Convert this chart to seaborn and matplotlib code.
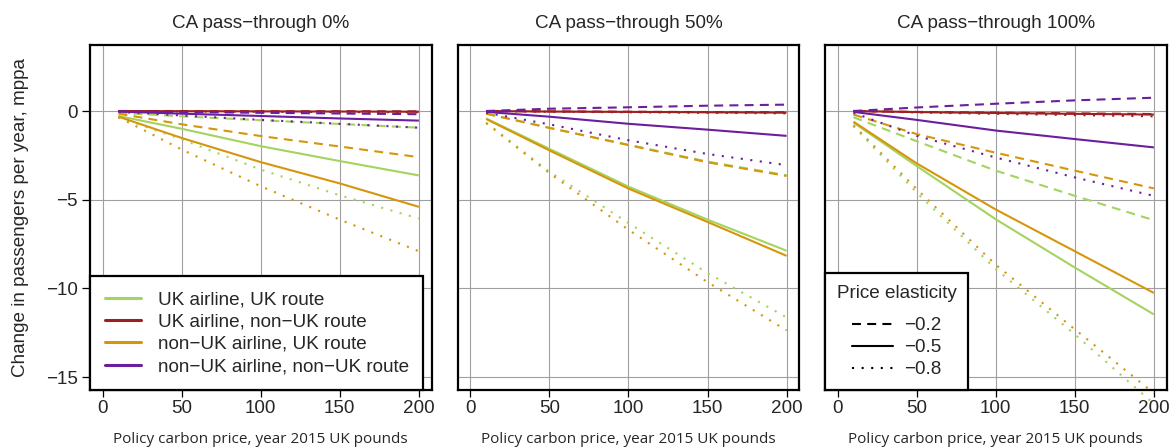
import numpy as np
import pandas as pd
import matplotlib
matplotlib.use("Agg")
import matplotlib.pyplot as plt
from matplotlib.lines import Line2D
import seaborn as sns

# ---------------- data ----------------
price = [10, 50, 100, 150, 200]
panels = ["CA pass\u2212through 0%", "CA pass\u2212through 50%", "CA pass\u2212through 100%"]
groups = ["UK airline, UK route", "UK airline, non\u2212UK route",
          "non\u2212UK airline, UK route", "non\u2212UK airline, non\u2212UK route"]
elasticities = ["\u22120.2", "\u22120.5", "\u22120.8"]

# panel 0% : [group][elasticity]
p0_uk_uk_02 = [-0.10, -0.30, -0.52, -0.73, -0.94]
p0_uk_uk_05 = [-0.28, -1.00, -1.98, -2.82, -3.63]
p0_uk_uk_08 = [-0.35, -1.60, -3.30, -4.75, -6.06]
p0_uk_nuk_02 = [0.00, 0.00, -0.01, -0.01, -0.02]
p0_uk_nuk_05 = [0.00, -0.01, -0.02, -0.03, -0.04]
p0_uk_nuk_08 = [0.00, -0.02, -0.04, -0.06, -0.07]
p0_nuk_uk_02 = [-0.15, -0.75, -1.41, -2.00, -2.60]
p0_nuk_uk_05 = [-0.32, -1.52, -2.88, -4.08, -5.40]
p0_nuk_uk_08 = [-0.35, -2.17, -4.24, -6.12, -7.90]
p0_nuk_nuk_02 = [-0.02, -0.06, -0.10, -0.14, -0.18]
p0_nuk_nuk_05 = [-0.03, -0.15, -0.28, -0.42, -0.54]
p0_nuk_nuk_08 = [-0.05, -0.25, -0.50, -0.72, -0.94]

# panel 50%
p50_uk_uk_02 = [-0.15, -0.95, -1.90, -2.85, -3.62]
p50_uk_uk_05 = [-0.42, -2.13, -4.26, -6.12, -7.87]
p50_uk_uk_08 = [-0.65, -3.42, -6.31, -9.13, -11.63]
p50_uk_nuk_02 = [0.00, -0.02, -0.04, -0.06, -0.07]
p50_uk_nuk_05 = [0.00, -0.03, -0.05, -0.07, -0.09]
p50_uk_nuk_08 = [0.00, -0.04, -0.07, -0.10, -0.13]
p50_nuk_uk_02 = [-0.15, -0.95, -1.92, -2.89, -3.66]
p50_nuk_uk_05 = [-0.45, -2.22, -4.37, -6.25, -8.16]
p50_nuk_uk_08 = [-0.68, -3.50, -6.69, -9.64, -12.36]
p50_nuk_nuk_02 = [0.00, 0.13, 0.21, 0.30, 0.36]
p50_nuk_nuk_05 = [-0.05, -0.32, -0.72, -1.05, -1.40]
p50_nuk_nuk_08 = [-0.10, -0.75, -1.65, -2.42, -3.05]

# panel 100%
p100_uk_uk_02 = [-0.35, -1.70, -3.36, -4.78, -6.15]
p100_uk_uk_05 = [-0.65, -3.10, -6.10, -8.82, -11.46]
p100_uk_uk_08 = [-0.85, -4.60, -8.90, -12.58, -16.50]
p100_uk_nuk_02 = [0.00, -0.05, -0.09, -0.13, -0.17]
p100_uk_nuk_05 = [0.00, -0.06, -0.11, -0.16, -0.20]
p100_uk_nuk_08 = [0.00, -0.08, -0.16, -0.23, -0.30]
p100_nuk_uk_02 = [-0.20, -1.30, -2.35, -3.36, -4.36]
p100_nuk_uk_05 = [-0.60, -2.95, -5.55, -7.90, -10.25]
p100_nuk_uk_08 = [-0.80, -4.40, -8.66, -12.30, -15.90]
p100_nuk_nuk_02 = [0.00, 0.20, 0.41, 0.60, 0.75]
p100_nuk_nuk_05 = [-0.05, -0.50, -1.10, -1.58, -2.05]
p100_nuk_nuk_08 = [-0.10, -1.40, -2.62, -3.74, -4.78]

x_ticks = [0, 50, 100, 150, 200]
y_ticks = [0, -5, -10, -15]
y_tick_labels = ["0", "\u22125", "\u221210", "\u221215"]

series = {
    panels[0]: [[p0_uk_uk_02, p0_uk_uk_05, p0_uk_uk_08],
                [p0_uk_nuk_02, p0_uk_nuk_05, p0_uk_nuk_08],
                [p0_nuk_uk_02, p0_nuk_uk_05, p0_nuk_uk_08],
                [p0_nuk_nuk_02, p0_nuk_nuk_05, p0_nuk_nuk_08]],
    panels[1]: [[p50_uk_uk_02, p50_uk_uk_05, p50_uk_uk_08],
                [p50_uk_nuk_02, p50_uk_nuk_05, p50_uk_nuk_08],
                [p50_nuk_uk_02, p50_nuk_uk_05, p50_nuk_uk_08],
                [p50_nuk_nuk_02, p50_nuk_nuk_05, p50_nuk_nuk_08]],
    panels[2]: [[p100_uk_uk_02, p100_uk_uk_05, p100_uk_uk_08],
                [p100_uk_nuk_02, p100_uk_nuk_05, p100_uk_nuk_08],
                [p100_nuk_uk_02, p100_nuk_uk_05, p100_nuk_uk_08],
                [p100_nuk_nuk_02, p100_nuk_nuk_05, p100_nuk_nuk_08]],
}

rows = []
for pn, glist in series.items():
    for g, elist in zip(groups, glist):
        for e, vals in zip(elasticities, elist):
            for xv, yv in zip(price, vals):
                rows.append(dict(panel=pn, group=g, elasticity=e, price=xv, change=yv))
df = pd.DataFrame(rows)

# ---------------- style ----------------
sns.set_style("white")
plt.rcParams["font.family"] = ["Liberation Sans", "DejaVu Sans"]
plt.rcParams["axes.unicode_minus"] = True

palette = {groups[0]: "#a4d35f", groups[1]: "#9c1f22",
           groups[2]: "#d6960c", groups[3]: "#6c1f9c"}
dashes = {elasticities[0]: (4.3, 3.0), elasticities[1]: "", elasticities[2]: (1.0, 3.6)}
LW = 1.5
FS = 13.6

W, H = 1175, 447
fig = plt.figure(figsize=(W / 100, H / 100), dpi=100)
fig.patch.set_facecolor("white")

ax_lefts = [90, 457.7, 825]
ax_w = 341.5
top_px, bot_px = 45, 390
axes = []
for i, pn in enumerate(panels):
    ax = fig.add_axes([ax_lefts[i] / W, 1 - bot_px / H, ax_w / W, (bot_px - top_px) / H])
    axes.append(ax)
    sub = df[df.panel == pn]
    sns.lineplot(data=sub, x="price", y="change", hue="group", style="elasticity",
                 hue_order=groups, style_order=elasticities, palette=palette,
                 dashes=dashes, linewidth=LW, legend=False, ax=ax,
                 estimator=None, sort=True)
    for ln in ax.lines:
        ln.set_clip_on(False)
        ln.set_dash_capstyle("butt")
        ln.set_solid_capstyle("butt")
        ln.set_zorder(3)
    ax.set_xlim(-8, 208)
    ax.set_ylim(-15.72, 3.72)
    ax.set_xticks(x_ticks)
    ax.set_xticklabels([str(t) for t in x_ticks], fontsize=FS)
    ax.set_yticks(y_ticks)
    ax.grid(True, color="#a0a0a0", linewidth=0.8, zorder=0)
    ax.set_axisbelow(True)
    for s in ax.spines.values():
        s.set_visible(True)
        s.set_color("black")
        s.set_linewidth(1.6)
    ax.tick_params(axis="x", direction="out", length=5, width=0.9, color="black",
                   pad=2, bottom=True)
    if i == 0:
        ax.set_yticklabels(y_tick_labels, fontsize=FS)
        ax.tick_params(axis="y", direction="out", length=6, width=0.9, color="black",
                       pad=3, left=True)
        ax.set_ylabel("Change in passengers per year, mppa", fontsize=FS, labelpad=12)
    else:
        ax.set_yticklabels([])
        ax.tick_params(axis="y", left=False)
        ax.set_ylabel("")
    ax.set_xlabel("Policy carbon price, year 2015 UK pounds", fontsize=11,
                  family=["Open Sans", "DejaVu Sans"], labelpad=11)
    ax.set_title(pn, fontsize=FS, pad=12)

# legend for groups (panel 1)
h1 = [Line2D([0], [0], color=palette[g], lw=2.2) for g in groups]
leg1 = axes[0].legend(h1, groups, loc="lower left", bbox_to_anchor=(0, 0),
                      borderaxespad=0, fontsize=FS, frameon=True, fancybox=False,
                      handlelength=1.94, handletextpad=0.86, labelspacing=0.27,
                      borderpad=0.78)
leg1.get_frame().set_edgecolor("black")
leg1.get_frame().set_linewidth(1.6)
leg1.get_frame().set_alpha(1)

# legend for elasticities (panel 3)
h2 = [Line2D([0], [0], color="black", lw=LW,
             linestyle=((0, dashes[e]) if dashes[e] else "-"), dash_capstyle="butt")
      for e in elasticities]
leg2 = axes[2].legend(h2, elasticities, title="Price elasticity", loc="lower left",
                      bbox_to_anchor=(0, 0), borderaxespad=0, fontsize=FS,
                      title_fontsize=FS, frameon=True, fancybox=False,
                      handlelength=2.2, handletextpad=0.6, labelspacing=0.25,
                      borderpad=0.62)
leg2._legend_box.sep = 11
leg2.get_frame().set_edgecolor("black")
leg2.get_frame().set_linewidth(1.6)
leg2.get_frame().set_alpha(1)

fig.savefig("out.png", dpi=100, facecolor="white")
